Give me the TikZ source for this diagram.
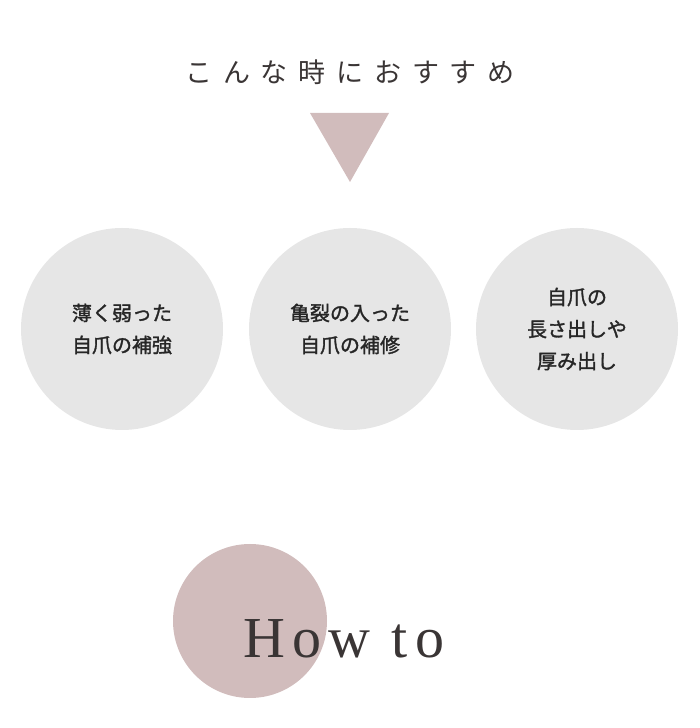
\documentclass[tikz,border=0pt]{standalone}
\usepackage{fontspec}
\newfontfamily\jp{Noto Sans CJK JP}
\newfontfamily\jpb{Noto Sans CJK JP}[FakeBold=1.5]
\newfontfamily\jpt{Noto Sans CJK JP}[LetterSpace=40]
\newfontfamily\ser{Liberation Serif}[LetterSpace=12]
\definecolor{pinkg}{HTML}{D1BCBC}
\definecolor{lgray}{HTML}{E6E6E6}
\definecolor{txt}{HTML}{3A3535}
\begin{document}
\begin{tikzpicture}[x=1pt,y=1pt,
  bub/.style={circle,fill=lgray,minimum size=202pt,inner sep=0pt,align=center,font=\jpb\fontsize{20}{32}\selectfont,text=black!85}]
\useasboundingbox (0,0) rectangle (700,728);
\node[text=txt,font=\jpt\fontsize{27}{30}\selectfont] (title) at (350,656) {こんな時におすすめ};
\fill[pinkg] (310,615) coordinate (t1) -- (389,615) coordinate (t2) -- (350,546) coordinate (t3) -- cycle;
\node[bub] (c1) at (122,399) {薄く弱った\\自爪の補強};
\node[bub] (c2) at (350,399) {亀裂の入った\\自爪の補修};
\node[bub] (c3) at (577,399) {自爪の\\長さ出しや\\厚み出し};
\node[circle,fill=pinkg,minimum size=154pt,inner sep=0pt] (p) at (250,107) {};
\node[anchor=base,text=txt,font=\ser\fontsize{58}{60}\selectfont] (how) at (344,70) {How to};
\end{tikzpicture}
\end{document}
